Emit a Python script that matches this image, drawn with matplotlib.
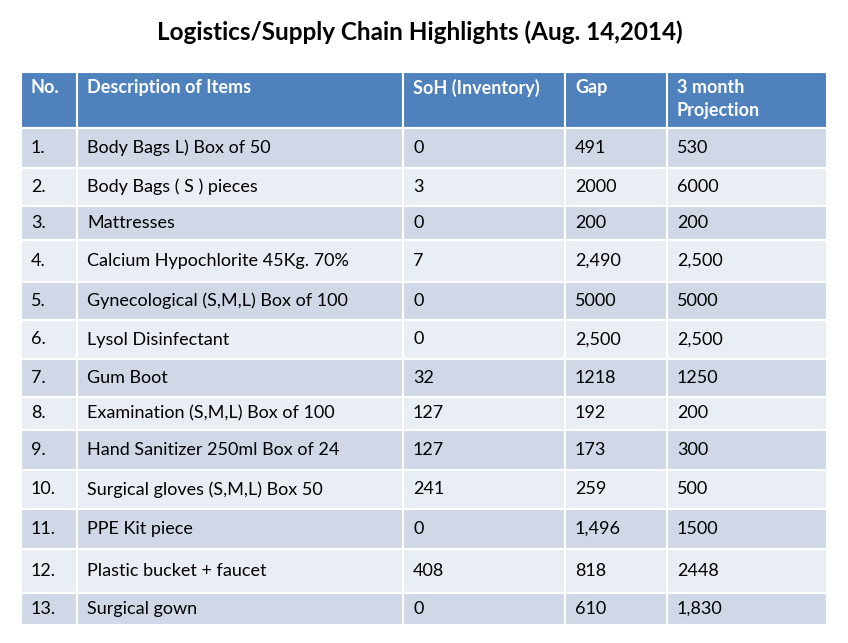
import matplotlib.pyplot as plt
from matplotlib.patches import Rectangle


header = ['No.', 'Description of Items', 'SoH (Inventory)', 'Gap', '3 month\nProjection']
rows = [
    ['1.', 'Body Bags L) Box of 50', '0', '491', '530'],
    ['2.', 'Body Bags ( S ) pieces', '3', '2000', '6000'],
    ['3.', 'Mattresses', '0', '200', '200'],
    ['4.', 'Calcium Hypochlorite 45Kg. 70%', '7', '2,490', '2,500'],
    ['5.', 'Gynecological (S,M,L) Box of 100', '0', '5000', '5000'],
    ['6.', 'Lysol Disinfectant', '0', '2,500', '2,500'],
    ['7.', 'Gum Boot', '32', '1218', '1250'],
    ['8.', 'Examination (S,M,L) Box of 100', '127', '192', '200'],
    ['9.', 'Hand Sanitizer 250ml Box of 24', '127', '173', '300'],
    ['10.', 'Surgical gloves (S,M,L) Box 50', '241', '259', '500'],
    ['11.', 'PPE Kit piece', '0', '1,496', '1500'],
    ['12.', 'Plastic bucket + faucet', '408', '818', '2448'],
    ['13.', 'Surgical gown', '0', '610', '1,830'],
]
col_edges = [21, 77, 403, 565, 667, 827]
row_edges = [72, 128, 168, 206, 240, 282, 320, 359, 397, 430, 470, 509, 549, 593, 625]


def draw_cell(ax, x0, x1, y0, y1, color):
    ax.add_patch(Rectangle((x0, y0), x1 - x0, y1 - y0, facecolor=color,
                           edgecolor='white', lw=1.5))


plt.rcParams['font.family'] = ['Lato', 'DejaVu Sans']
fig = plt.figure(figsize=(8.48, 6.43), dpi=100)
ax = fig.add_axes([0, 0, 1, 1])
ax.set_xlim(0, 848)
ax.set_ylim(643, 0)
ax.axis('off')

ax.text(420, 32, 'Logistics/Supply Chain Highlights (Aug. 14,2014)', ha='center', va='center',
        fontsize=17.5, fontweight='bold', color='black')

# header row
for j, label in enumerate(header):
    draw_cell(ax, col_edges[j], col_edges[j + 1], row_edges[0], row_edges[1], '#4F81BD')
    ax.text(col_edges[j] + 10, row_edges[0] + 7, label, ha='left', va='top',
            fontsize=13, fontweight='bold', color='white', linespacing=1.4)

# body rows
for i, row in enumerate(rows):
    y0, y1 = row_edges[i + 1], row_edges[i + 2]
    color = '#D0D8E8' if i % 2 == 0 else '#E9EDF4'
    for j, val in enumerate(row):
        draw_cell(ax, col_edges[j], col_edges[j + 1], y0, y1, color)
        ax.text(col_edges[j] + 10, (y0 + y1) / 2, val, ha='left', va='center',
                fontsize=13, color='black')

fig.savefig('out.png', dpi=100)
